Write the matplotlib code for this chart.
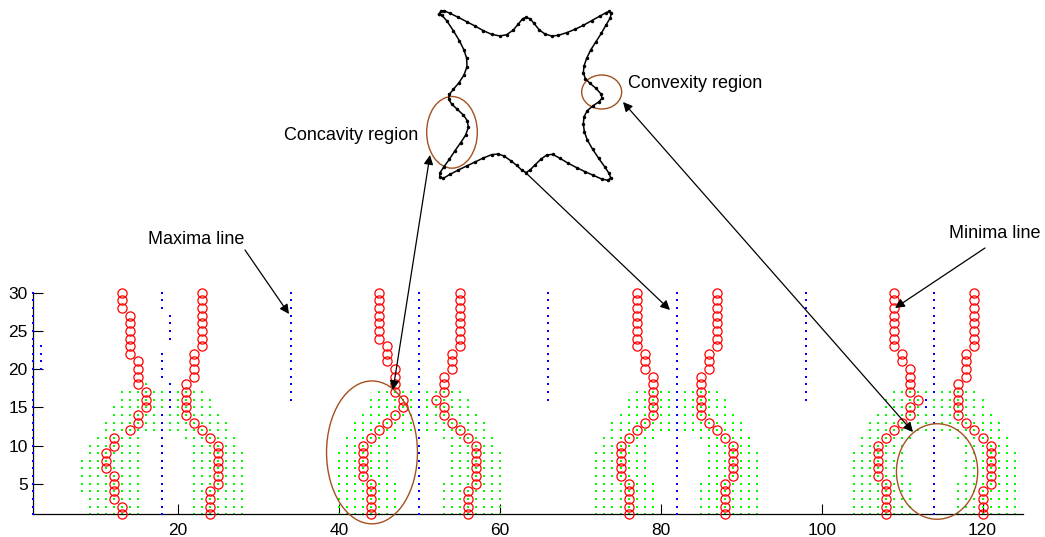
import numpy as np
import matplotlib
matplotlib.use('Agg')
import matplotlib.pyplot as plt
from matplotlib.patches import Ellipse, FancyArrowPatch

plt.rcParams['font.family'] = ['Liberation Sans', 'DejaVu Sans']

# ---------------- data ----------------
scales = list(range(1, 31))

# zero crossing positions (contour index) for scale 1..30, per lobe
zc_left_1 = [13,13,12,12,12,12,11,11,11,12,12,14,15,15,16,16,16,15,15,15,15,14,14,14,14,14,14,13,13,13]
zc_right_1 = [24,24,24,24,25,25,25,25,25,25,24,23,22,21,21,21,21,21,22,22,22,22,23,23,23,23,23,23,23,23]
zc_left_2 = [44,44,44,44,44,43,43,43,43,43,44,45,46,47,48,48,47,47,47,47,46,46,46,45,45,45,45,45,45,45]
zc_right_2 = [56,56,56,56,57,57,57,57,57,57,56,55,54,53,53,52,53,53,53,54,54,54,55,55,55,55,55,55,55,55]
zc_left_3 = [76,76,76,76,76,75,75,75,75,75,76,77,78,79,79,79,79,79,79,78,78,78,77,77,77,77,77,77,77,77]
zc_right_3 = [88,88,88,88,88,89,89,89,89,89,88,87,86,85,85,85,85,85,85,86,86,86,87,87,87,87,87,87,87,87]
zc_left_4 = [108,108,108,108,108,107,107,107,107,107,108,109,110,111,111,112,111,111,111,111,110,110,109,109,109,109,109,109,109,109]
zc_right_4 = [120,120,120,120,121,121,121,121,121,121,120,119,118,117,117,117,117,117,118,118,118,118,119,119,119,119,119,119,119,119]

# concave region runs: [scale, first index, last index]
green_runs_1 = [
    [18, 16, 16], [17, 13, 23], [16, 13, 24], [15, 12, 24], [14, 12, 25], [13, 11, 26], [12, 11, 26],
    [11, 10, 15], [11, 21, 27], [10, 9, 15], [10, 22, 27], [9, 9, 15], [9, 22, 28],
    [8, 8, 15], [8, 22, 28], [7, 8, 15], [7, 22, 28], [6, 8, 15], [6, 22, 28],
    [5, 8, 15], [5, 22, 28], [4, 8, 15], [4, 22, 28], [3, 9, 15], [3, 22, 28],
    [2, 9, 15], [2, 22, 28], [1, 9, 15], [1, 22, 28],
]
green_runs_2 = [
    [17, 45, 55], [16, 44, 56], [15, 44, 56], [14, 43, 57], [13, 42, 58], [12, 42, 58],
    [11, 41, 47], [11, 53, 59], [10, 41, 46], [10, 54, 59],
    [9, 40, 46], [9, 54, 60], [8, 40, 46], [8, 54, 60], [7, 40, 46], [7, 54, 60], [6, 40, 46], [6, 54, 60],
    [5, 40, 47], [5, 53, 60], [4, 40, 47], [4, 53, 60], [3, 40, 47], [3, 53, 60],
    [2, 40, 47], [2, 53, 60], [1, 40, 47], [1, 53, 60],
]
green_runs_3 = [
    [17, 77, 87], [16, 76, 88], [15, 76, 88], [14, 75, 89], [13, 74, 90], [12, 74, 90],
    [11, 73, 79], [11, 85, 91], [10, 73, 78], [10, 86, 91],
    [9, 72, 78], [9, 86, 92], [8, 72, 78], [8, 86, 92], [7, 72, 78], [7, 86, 92], [6, 72, 78], [6, 86, 92],
    [5, 72, 79], [5, 85, 92], [4, 72, 79], [4, 85, 92], [3, 72, 79], [3, 85, 92],
    [2, 72, 79], [2, 85, 92], [1, 72, 79], [1, 85, 92],
]
green_runs_4 = [
    [17, 109, 119], [16, 108, 120], [15, 108, 120], [14, 107, 121], [13, 106, 122], [12, 106, 122],
    [11, 105, 111], [11, 117, 123], [10, 105, 110], [10, 118, 123],
    [9, 104, 110], [9, 118, 124], [8, 104, 110], [8, 118, 124], [7, 104, 110], [7, 118, 124], [6, 104, 110], [6, 118, 124],
    [5, 104, 111], [5, 117, 124], [4, 104, 111], [4, 117, 124], [3, 104, 111], [3, 117, 124],
    [2, 104, 111], [2, 117, 124], [1, 104, 111], [1, 117, 124],
]

# extrema lines: [index, first scale, last scale]
blue_runs = [
    [2, 1, 30], [3, 20, 23],
    [18, 1, 14], [19, 15, 18], [18, 19, 22], [19, 24, 27], [18, 28, 30],
    [34, 16, 30],
    [50, 1, 30],
    [66, 16, 30],
    [82, 1, 30],
    [98, 16, 30],
    [114, 1, 14], [113, 15, 16], [114, 17, 30],
]

x_ticks = [20, 40, 60, 80, 100, 120]
y_ticks = [5, 10, 15, 20, 25, 30]

# shape outline (traced, arbitrary units, y down), clockwise from top-left tip
contour_x = [118, 122, 132, 150, 175, 200, 225, 250, 275, 300, 320, 340, 355, 368, 378, 390, 402, 418, 435, 455,
             475, 500, 525, 550, 575, 600, 618, 628, 634,
             630, 618, 604, 588, 572, 560, 552, 550, 556, 570, 588, 603, 606, 596, 578, 562, 552, 550, 553,
             562, 578, 596, 614, 627, 632, 624,
             605, 580, 555, 530, 505, 480, 458, 440, 422, 405, 390, 378, 365, 350, 332, 312, 295, 275, 250,
             225, 200, 175, 150, 130, 119,
             120, 132, 148, 165, 182, 197, 205, 202, 190, 172, 155, 146, 148, 160, 177, 192, 201, 200, 192,
             178, 160, 140, 125, 118]
contour_y = [42, 34, 32, 40, 52, 65, 78, 92, 103, 108, 104, 90, 72, 56, 52, 56, 70, 90, 102, 108,
             106, 98, 88, 76, 62, 48, 38, 34, 40,
             55, 75, 100, 125, 150, 175, 198, 218, 236, 250, 265, 282, 295, 306, 318, 332, 350, 372, 395,
             420, 448, 475, 500, 520, 533, 541,
             537, 526, 515, 503, 490, 475, 463, 465, 478, 495, 510, 518, 510, 496, 482, 468, 462, 464, 474,
             486, 498, 510, 523, 535, 532,
             518, 500, 478, 452, 428, 405, 382, 362, 345, 328, 312, 298, 283, 268, 248, 225, 200, 175, 150,
             122, 92, 62, 45, 42]

# ---------------- figure ----------------
fig = plt.figure(figsize=(10.45, 5.37), dpi=100)
ax = fig.add_axes([0.0319, 0.0423, 0.9468, 0.4127])

green_x, green_y = [], []
for runs in [green_runs_1, green_runs_2, green_runs_3, green_runs_4]:
    for s, a, b in runs:
        for i in range(a, b + 1):
            green_x.append(i)
            green_y.append(s)
ax.plot(green_x, green_y, linestyle='none', marker='s', markersize=2.1,
        color='#00ff00', markeredgewidth=0, clip_on=False, zorder=2)

blue_x, blue_y = [], []
for i, a, b in blue_runs:
    for s in range(a, b + 1):
        blue_x.append(i)
        blue_y.append(s)
ax.plot(blue_x, blue_y, linestyle='none', marker='s', markersize=2.1,
        color='#0000ff', markeredgewidth=0, clip_on=False, zorder=3)

for zc in [zc_left_1, zc_right_1, zc_left_2, zc_right_2,
           zc_left_3, zc_right_3, zc_left_4, zc_right_4]:
    ax.plot(zc, scales, linestyle='none', marker='o', markersize=6.6,
            markerfacecolor='none', markeredgecolor='#ff0000', markeredgewidth=0.9,
            clip_on=False, zorder=4)

ax.set_xlim(2, 125)
ax.set_ylim(1, 30)
ax.set_xticks(x_ticks)
ax.set_yticks(y_ticks)
ax.tick_params(direction='in', length=7, width=0.8, labelsize=12.5, pad=4)
ax.tick_params(axis='x', pad=6)
for side in ['top', 'right']:
    ax.spines[side].set_visible(False)
for side in ['left', 'bottom']:
    ax.spines[side].set_linewidth(0.9)

brown = '#a3501f'
ax.add_patch(Ellipse((44.1, 9.1), 11.3, 18.7, fill=False, edgecolor=brown, lw=1.0, clip_on=False, zorder=5))
ax.add_patch(Ellipse((114.35, 6.6), 10.1, 12.5, fill=False, edgecolor=brown, lw=1.0, clip_on=False, zorder=5))

# shape inset
ins = fig.add_axes([400 / 1045, 1 - 200 / 537, 250 / 1045, 200 / 537])
ins.set_xlim(0, 750)
ins.set_ylim(600, 0)
ins.axis('off')
ins.plot(contour_x, contour_y, '-', color='black', lw=1.1, marker='.', markersize=3)
ins.add_patch(Ellipse((156, 397), 152, 215, fill=False, edgecolor=brown, lw=1.0))
ins.add_patch(Ellipse((605, 276), 120, 102, fill=False, edgecolor=brown, lw=1.0))

# annotation layer in pixel units
ov = fig.add_axes([0, 0, 1, 1], zorder=10)
ov.set_xlim(0, 1045)
ov.set_ylim(537, 0)
ov.axis('off')
ov.patch.set_alpha(0)

ov.text(196, 239, 'Maxima line', fontsize=13, ha='center', va='center')
ov.text(995, 233, 'Minima line', fontsize=13, ha='center', va='center')
ov.text(351, 135, 'Concavity region', fontsize=13, ha='center', va='center')
ov.text(695, 83, 'Convexity region', fontsize=13, ha='center', va='center')

def arrow(p0, p1, style='-|>'):
    ov.add_patch(FancyArrowPatch(p0, p1, arrowstyle=style, mutation_scale=14,
                                 color='black', lw=0.9, shrinkA=0, shrinkB=0))

arrow((245, 250), (289, 314))
arrow((985, 248), (895, 308))
arrow((430, 155), (393, 390), '<|-|>')
arrow((623, 102), (913, 432), '<|-|>')
arrow((525, 172), (670, 310))

fig.savefig('out.png', dpi=100, facecolor='white')
